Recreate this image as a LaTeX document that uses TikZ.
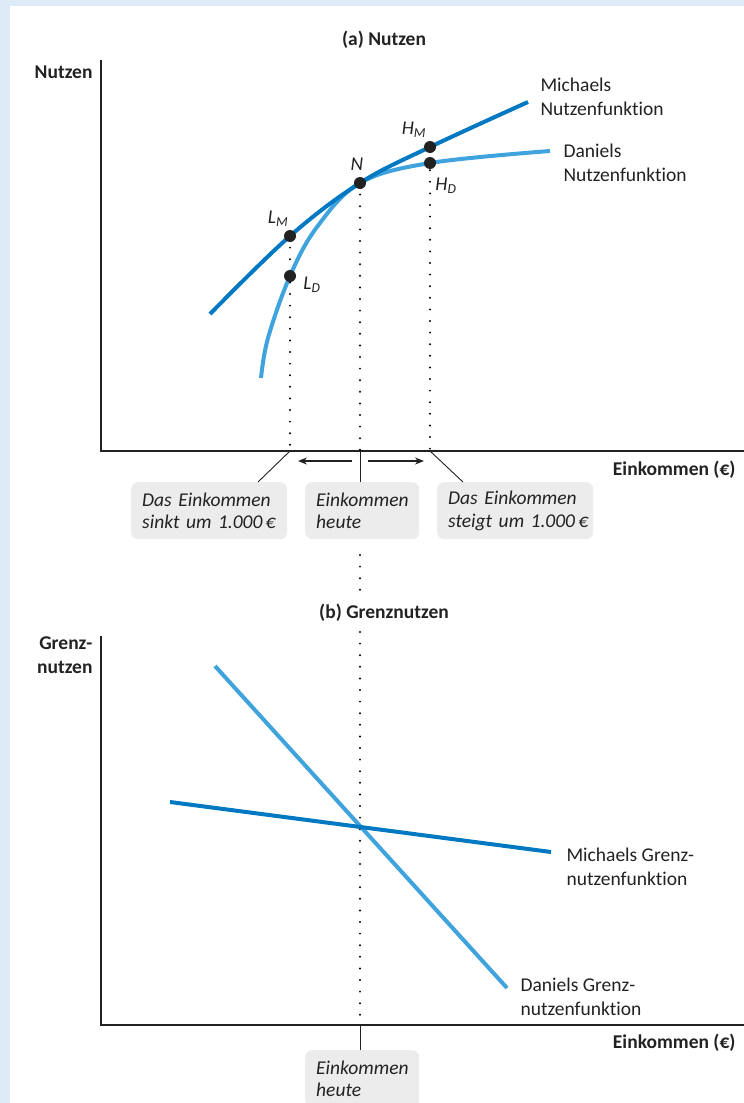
\documentclass[tikz,border=0pt]{standalone}
\usepackage{fontspec}
\setmainfont{Carlito}[Ligatures=NoCommon]
\usetikzlibrary{arrows.meta}

\definecolor{bgblue}{HTML}{DFEAF8}
\definecolor{mblue}{HTML}{0079C2}
\definecolor{dblue}{HTML}{3FA3DD}
\definecolor{boxgray}{HTML}{ECECEC}
\definecolor{txt}{HTML}{222222}

\newcommand{\fsz}{\fontsize{19.5}{24.5}\selectfont}
\newcommand{\ptlab}[2]{\itshape #1\textsubscript{#2}}

\tikzset{   dotblack/.style={draw=none,circle,fill=txt,minimum size=12pt,inner sep=0pt},
            curvem/.style={draw=mblue,line width=4pt},
            curved/.style={draw=dblue,line width=4pt},
            infobox/.style={fill=boxgray,rounded corners=7pt,text width=134pt,inner xsep=11pt,minimum height=57pt,align=left,anchor=north west,font=\fontsize{19.5}{22.5}\selectfont\itshape},
            axislab/.style={font=\fsz\bfseries,text=txt},
            dotline/.style={line width=2.2pt,dash pattern=on 0pt off 11.6pt,line cap=round},
}

\begin{document}
\begin{tikzpicture}[x=1pt,y=-1pt,every node/.style={text=txt,font=\fsz}]
    \useasboundingbox (0,0) rectangle (744,1103);
    \fill[bgblue] (0,0) rectangle (744,1103); % frame
    \fill[white] (10,6) rectangle (744,1103);

    %% (a) Nutzen
    \node[axislab] (titlea) at (384,40) {(a) Nutzen};
    \draw[line width=1.1pt,txt] (101,60) -- (101,451) -- (744,451); % axes
    \node[axislab,anchor=east] (ylaba) at (96,72) {Nutzen};
    \node[axislab,anchor=east] (xlaba) at (739,470) {Einkommen (€)};

    \coordinate (N) at (360,183);
    \coordinate (LM) at (290,236);
    \coordinate (LD) at (290,276);
    \coordinate (HM) at (430,147);
    \coordinate (HD) at (430,163);

    \draw[curved] plot[smooth,tension=0.6] coordinates {(261,378) (268,338) (LD) (317,227) (N) (HD) (550,151)};
    \draw[curvem] plot[smooth,tension=0.6] coordinates {(210,314) (LM) (N) (HM) (528,102)};

    \coordinate (fl) at (290,451); % feet on the axis
    \coordinate (fn) at (360,451);
    \coordinate (fh) at (430,451);
    \draw[dotline] (LM) -- (fl);   % dotted lines
    \draw[dotline] (N) -- (fn);
    \draw[dotline] (HM) -- (fh);

    \node[dotblack] (nLM) at (LM) {}; % points
    \node[dotblack] (nLD) at (LD) {};
    \node[dotblack] (nN) at (N) {};
    \node[dotblack] (nHM) at (HM) {};
    \node[dotblack] (nHD) at (HD) {};

    \node (labLM) at (278,219) {\ptlab{L}{M}};
    \node (labLD) at (312,285) {\ptlab{L}{D}};
    \node (labN) at (357,164) {\itshape N};
    \node (labHM) at (414,130) {\ptlab{H}{M}};
    \node (labHD) at (446,186) {\ptlab{H}{D}};

    \node[anchor=west,align=left] (labm) at (537,97) {Michaels\\Nutzenfunktion};
    \node[anchor=west,align=left] (labd) at (560,163) {Daniels\\Nutzenfunktion};

    \draw[-{Stealth[length=9pt,width=7pt]},line width=1.3pt,txt] (352,461) -- (298,461); % arrows
    \draw[-{Stealth[length=9pt,width=7pt]},line width=1.3pt,txt] (368,461) -- (424,461);

    \node[infobox] (boxl) at (131,482) {\mbox{Das Einkommen}\\\mbox{sinkt um 1.000\,€}};
    \node[infobox,text width=92pt] (boxn) at (305,482) {Einkommen\\heute};
    \node[infobox] (boxh) at (437,482) {\mbox{Das Einkommen}\\\mbox{steigt um 1.000\,€}};

    \coordinate (cl) at (258,482);
    \coordinate (ch) at (463,482);
    \draw[line width=0.9pt,txt] (fl) -- (cl);
    \draw[line width=0.9pt,txt] (fn) -- (boxn.north -| fn);
    \draw[line width=0.9pt,txt] (fh) -- (ch);

    \coordinate (gap1) at (360,555);
    \coordinate (gap2) at (360,592);
    \coordinate (gap3) at (360,632);
    \draw[dotline] (gap1) -- (gap2);

    %% (b) Grenznutzen
    \node[axislab] (titleb) at (384,613) {(b) Grenznutzen};
    \draw[line width=1.1pt,txt] (101,636) -- (101,1025) -- (744,1025); % axes
    \node[axislab,anchor=north east,align=right] (ylabb) at (96,633) {Grenz-\\nutzen};
    \node[axislab,anchor=east] (xlabb) at (739,1043) {Einkommen (€)};

    \coordinate (fb) at (360,1025);
    \draw[dotline] (gap3) -- (fb);

    \draw[curved] (215,666) -- (507,988);
    \draw[curvem] (170,802) -- (551,852);

    \node[anchor=west,align=left] (labmg) at (563,867) {Michaels Grenz-\\nutzenfunktion};
    \node[anchor=west,align=left] (labdg) at (517,997) {Daniels Grenz-\\nutzenfunktion};

    \node[infobox,text width=92pt] (boxb) at (305,1050) {Einkommen\\heute};
    \draw[line width=0.9pt,txt] (fb) -- (boxb.north -| fb);
\end{tikzpicture}
\end{document}
